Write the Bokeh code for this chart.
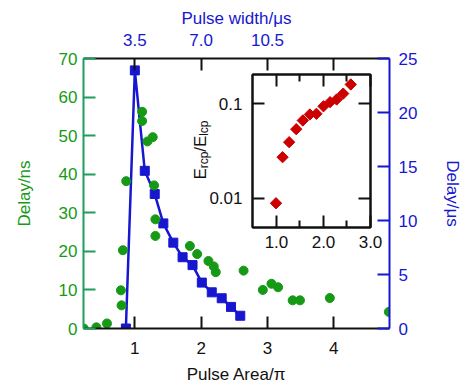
import math
from bokeh.plotting import figure
from bokeh.models import (Range1d, LinearAxis, LogAxis, FixedTicker,
                          PrintfTickFormatter, BasicTickFormatter, Label,
                          CustomLabelingPolicy)
from bokeh.layouts import column
from bokeh.embed import file_html
from bokeh.resources import INLINE

# ---------------- data ----------------
green_area = [0.23, 0.42, 0.58, 0.80, 0.79, 0.82, 0.87, 1.11, 1.11, 1.19, 1.27, 1.29,
              1.31, 1.31, 1.83, 1.94, 2.11, 2.19, 2.22, 2.64, 2.93, 3.06, 3.16, 3.38,
              3.49, 3.94, 4.83]
green_delay_ns = [0.0, 0.3, 1.3, 6.0, 9.9, 20.3, 38.2, 56.2, 53.8, 48.5, 49.6, 37.1,
                  28.3, 24.0, 21.4, 19.3, 17.5, 16.1, 14.6, 15.0, 10.0, 11.6, 10.7, 7.3,
                  7.3, 7.9, 4.3]
blue_area = [0.865, 1.0, 1.15, 1.30, 1.43, 1.58, 1.72, 1.87, 2.01, 2.16, 2.31, 2.45, 2.59]
blue_delay_us = [0.0, 23.9, 14.6, 12.45, 9.73, 7.95, 6.6, 5.87, 4.25, 3.35, 2.8, 2.0, 1.18]
red_area = [0.99, 1.13, 1.27, 1.42, 1.56, 1.71, 1.85, 2.00, 2.14, 2.28, 2.42, 2.58]
red_ratio = [0.00885, 0.0272, 0.0392, 0.0538, 0.0665, 0.077, 0.0783, 0.094, 0.104,
             0.111, 0.128, 0.160]

bottom_ticks = [1, 2, 3, 4]
top_ticks = [3.5, 7.0, 10.5]
top_minor = [14.0]
left_ticks = [0, 10, 20, 30, 40, 50, 60, 70]
right_ticks = [0, 5, 10, 15, 20, 25]
inset_x_ticks = [1.0, 2.0, 3.0]
inset_x_minor = [1.5, 2.5]
inset_y_ticks = [0.01, 0.1]

# ---------------- style ----------------
FONT = "Liberation Sans"
FS = "17px"
GREEN_AX = "#1f9e5c"
GREEN = "#169a16"
BLUE = "#1717cf"
RED = "#cc0000"
BLACK = "#111111"

W, H = 465, 386
FL, FR, FT, FB = 83, 393, 58, 330          # main frame edges (px)
XR = (0.226, 4.84)
YR = (0, 70)
PW_PER_PI = 3.5

p = figure(width=W, height=H, output_backend="svg", toolbar_location=None,
           x_range=Range1d(*XR), y_range=Range1d(*YR),
           x_axis_location=None, y_axis_location=None,
           min_border_left=FL, min_border_right=W - FR, min_border_top=FT,
           min_border_bottom=H - FB)
p.extra_y_ranges = {"us": Range1d(0, 25)}
p.extra_x_ranges = {"pw": Range1d(XR[0] * PW_PER_PI, XR[1] * PW_PER_PI)}
p.outline_line_color = None
p.background_fill_color = "white"
p.border_fill_color = "white"
p.grid.visible = False


def style_axis(ax, color, lab_color, tick_color):
    ax.axis_line_color = color
    ax.axis_line_width = 2
    ax.major_tick_line_color = tick_color
    ax.major_tick_line_width = 2
    ax.major_tick_in = 12
    ax.major_tick_out = 0
    ax.minor_tick_line_color = tick_color
    ax.minor_tick_line_width = 2
    ax.minor_tick_in = 0
    ax.minor_tick_out = 0
    ax.major_label_text_color = lab_color
    ax.major_label_text_font = FONT
    ax.major_label_text_font_size = FS
    ax.axis_label_text_color = lab_color
    ax.axis_label_text_font = FONT
    ax.axis_label_text_font_size = FS
    ax.axis_label_text_font_style = "normal"


left = LinearAxis(ticker=FixedTicker(ticks=left_ticks), axis_label="Delay/ns")
style_axis(left, GREEN_AX, GREEN, GREEN_AX)
left.major_label_standoff = 6
left.axis_label_standoff = 22
p.add_layout(left, "left")

below = LinearAxis(ticker=FixedTicker(ticks=bottom_ticks), axis_label="Pulse Area/\u03c0")
style_axis(below, BLACK, BLACK, BLACK)
below.major_label_standoff = 13
below.axis_label_standoff = 8
p.add_layout(below, "below")

above = LinearAxis(x_range_name="pw",
                   ticker=FixedTicker(ticks=top_ticks, minor_ticks=top_minor),
                   formatter=PrintfTickFormatter(format="%.1f"),
                   axis_label="Pulse width/\u03bcs")
style_axis(above, BLACK, BLUE, BLACK)
above.minor_tick_in = 12
above.major_label_standoff = 13
above.axis_label_standoff = 3
p.add_layout(above, "above")

right = LinearAxis(y_range_name="us", ticker=FixedTicker(ticks=right_ticks),
                   axis_label="Delay/\u03bcs")
style_axis(right, BLUE, BLUE, BLUE)
right.major_label_standoff = 9
right.axis_label_standoff = 23
p.add_layout(right, "right")

p.line(blue_area, blue_delay_us, y_range_name="us", line_color=BLUE, line_width=2.5)
p.scatter(blue_area, blue_delay_us, y_range_name="us", marker="square", size=9,
          fill_color=BLUE, line_color=BLUE)
p.scatter(green_area, green_delay_ns, marker="circle", size=9,
          fill_color=GREEN, line_color=GREEN)

# rotated inset y label E_rcp/E_lcp, built from pieces in the main figure
def mx(px):
    return XR[0] + (px - FL) * (XR[1] - XR[0]) / (FR - FL)


def my(py):
    return YR[0] + (FB - py) * (YR[1] - YR[0]) / (FB - FT)


base_x = 201.5       # baseline x (page px)
ycur = 180.0         # start (bottom) y (page px)
pieces = [("E", 17, 0), ("rcp", 12, 4), ("/", 17, 0), ("E", 17, 0), ("lcp", 12, 4)]
widths = {"E": 0.667, "rcp": 1.389, "/": 0.278, "lcp": 1.278}
for txt, fs, sub in pieces:
    p.add_layout(Label(x=mx(base_x + sub), y=my(ycur), text=txt, angle=math.pi / 2,
                       text_font=FONT, text_font_size=f"{fs}px", text_color=BLACK,
                       text_align="left", text_baseline="alphabetic"))
    ycur -= widths[txt] * fs

# ---------------- inset ----------------
# a column aligns the side borders of its plots, so the inset uses the
# same left/right borders as the main plot
IL, IR, IT, IB = FL, W - FR, 30, 40
IFW, IFH = 122, 153
IX0, IY0 = 252, 74                           # inset frame top-left (page px)
IXR = (0.49, 3.0)
IYR = (0.0049, 0.204)
IW, IH = IL + IFW + IR, IT + IFH + IB
inset = figure(width=IW, height=IH, output_backend="svg",
               toolbar_location=None, y_axis_type="log",
               x_range=Range1d(*IXR), y_range=Range1d(*IYR),
               x_axis_location=None, y_axis_location=None,
               min_border_left=IL, min_border_right=IR, min_border_top=IT,
               min_border_bottom=IB)
inset.outline_line_color = BLACK
inset.outline_line_width = 2
inset.background_fill_color = "white"
inset.border_fill_alpha = 0
inset.grid.visible = False

NO_LABELS = CustomLabelingPolicy(code="""
const arr = [...indices];
if (typeof indices.unset === "function") {
  for (const i of arr) indices.unset(i);
  return indices;
}
return new Set();
""")


def inset_axis(ax, show_labels):
    style_axis(ax, BLACK, BLACK, BLACK)
    ax.minor_tick_in = 7
    if not show_labels:
        ax.major_label_policy = NO_LABELS
        ax.major_label_standoff = 0


ib = LinearAxis(ticker=FixedTicker(ticks=inset_x_ticks, minor_ticks=inset_x_minor),
                formatter=PrintfTickFormatter(format="%.1f"))
inset_axis(ib, True)
ib.major_label_standoff = 8
inset.add_layout(ib, "below")
it = LinearAxis(ticker=FixedTicker(ticks=inset_x_ticks, minor_ticks=inset_x_minor))
inset_axis(it, False)
inset.add_layout(it, "above")
il = LogAxis(ticker=FixedTicker(ticks=inset_y_ticks), formatter=BasicTickFormatter())
inset_axis(il, True)
il.major_label_standoff = 10
inset.add_layout(il, "left")
ir = LogAxis(ticker=FixedTicker(ticks=inset_y_ticks))
inset_axis(ir, False)
inset.add_layout(ir, "right")

inset.scatter(red_area, red_ratio, marker="square", angle=math.pi / 4, size=8,
              fill_color=RED, line_color=RED)

inset.styles = {"position": "absolute", "left": f"{IX0 - IL}px", "top": f"{IY0 - IT}px",
                "width": f"{IW}px", "height": f"{IH}px",
                "min-width": f"{IW}px", "max-width": "none"}

root = column(p, inset)
open("out.html", "w").write(file_html(root, INLINE))
